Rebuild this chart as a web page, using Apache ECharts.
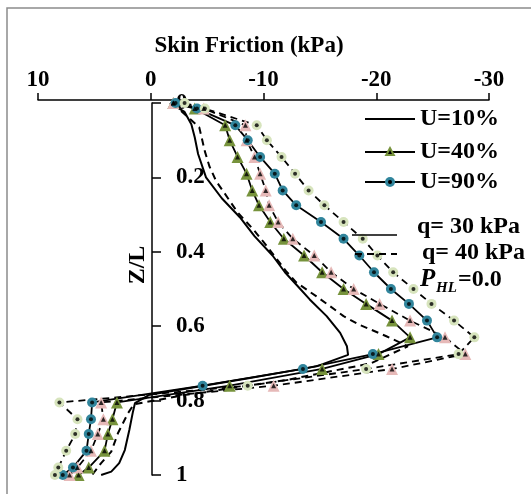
<!DOCTYPE html>
<html>
<head>
    <meta charset="utf-8" />
    <title>Skin Friction</title>
    <style>
        html, body { margin: 0; padding: 0; background: #fff; }
        #charts { width: 531px; height: 494px; }
    </style>
</head>
<body>
    <div id="charts"></div>
    <script src="https://cdn.jsdelivr.net/npm/echarts@6/dist/echarts.min.js"></script>
    <script type="text/javascript">
        // Z/L positions of the marked nodes (shared by the U=40% and U=90% curves)
        var zNodes = [0, 0.015, 0.06, 0.10, 0.145, 0.19, 0.235, 0.275, 0.32, 0.365, 0.41, 0.455, 0.5,
            0.54, 0.585, 0.63, 0.675, 0.715, 0.76, 0.805, 0.85, 0.89, 0.935, 0.98, 1.0];

        // skin friction (kPa) at those nodes
        var u40q30 = [-2.0, -3.9, -6.6, -7.0, -7.7, -8.5, -9.0, -9.6, -10.6, -11.8, -13.6, -15.2, -17.1,
            -19.1, -21.4, -23.0, -20.2, -15.2, -7.0, 3.0, 3.4, 3.8, 4.1, 5.5, 6.4];
        var u40q40 = [-2.0, -4.7, -8.4, -8.5, -9.2, -9.7, -10.2, -10.5, -11.3, -12.6, -14.5, -16.0, -18.0,
            -20.3, -23.0, -26.1, -27.9, -21.4, -10.9, 4.4, 4.2, 4.7, 5.3, 6.5, 7.2];
        var u90q30 = [-2.2, -4.1, -7.5, -8.6, -9.7, -11.0, -11.7, -12.9, -15.1, -17.1, -18.5, -19.8, -21.3,
            -22.9, -24.5, -25.4, -19.7, -13.5, -4.6, 5.2, 5.3, 5.5, 5.7, 6.9, 7.8];
        var u90q40 = [-3.0, -4.8, -9.4, -10.3, -11.6, -12.8, -14.0, -15.4, -17.1, -18.8, -20.1, -21.5, -23.3,
            -24.9, -26.9, -28.7, -27.3, -19.1, -8.6, 8.1, 6.5, 6.7, 7.5, 8.2, 8.5];

        // U=10% curves (no markers)
        var u10q30Z = [0, 0.024, 0.057, 0.092, 0.137, 0.2, 0.256, 0.307, 0.358, 0.41, 0.455, 0.488, 0.528,
            0.573, 0.618, 0.654, 0.677, 0.708, 0.739, 0.762, 0.784, 0.807, 0.833, 0.879, 0.933, 0.968, 0.991, 1.0];
        var u10q30 = [-1.7, -3.0, -3.6, -3.9, -4.2, -4.9, -6.3, -7.9, -9.2, -10.8, -11.9, -12.9, -14.1,
            -15.6, -16.8, -17.4, -17.5, -14.7, -8.8, -4.3, 0.1, 1.4, 1.6, 1.9, 2.3, 2.8, 3.5, 4.4];
        var u10q40Z = [0, 0.065, 0.13, 0.17, 0.21, 0.245, 0.294, 0.34, 0.385, 0.452, 0.482, 0.52, 0.546,
            0.573, 0.596, 0.627, 0.654, 0.70, 0.745, 0.785, 0.81, 0.833, 0.887, 0.937, 0.968, 1.0];
        var u10q40 = [-1.9, -4.3, -4.8, -5.2, -5.8, -6.6, -7.7, -9.1, -10.3, -12.0, -12.9, -14.7, -15.9,
            -17.1, -18.5, -20.9, -22.8, -19.5, -12.0, -3.0, 1.5, 2.0, 2.9, 3.5, 4.4, 5.2];

        var xTicks = { min: -30, max: 10, step: 10 };
        var yTicks = { min: 0, max: 1, step: 0.2 };

        var FONT = 'Liberation Serif';
        var GREEN = '#77933C', PINK = '#E6B9B8', BLUE = '#31859C', LIGHTGREEN = '#D7E4BD';

        function pairs(zs, vs) {
            var out = [];
            for (var i = 0; i < vs.length; i++) out.push([vs[i], zs[i]]);
            return out;
        }

        function curve(name, zs, vs, dashed) {
            return {
                name: name, type: 'line', data: pairs(zs, vs), symbol: 'none',
                lineStyle: { color: '#000', width: 2, type: dashed ? [7, 5] : 'solid' },
                z: 2
            };
        }

        function marked(name, vs, dashed, shape, color, size) {
            return {
                name: name, type: 'line', data: pairs(zNodes, vs),
                symbol: shape, symbolSize: size, showAllSymbol: true,
                itemStyle: { color: color, borderColor: color, borderWidth: 0 },
                lineStyle: { color: '#000', width: 1.8, type: dashed ? [7, 5] : 'solid' },
                z: 3
            };
        }

        // small black centre of each marker
        function dots(vs, shape) {
            return {
                type: 'scatter', data: pairs(zNodes, vs), symbol: shape,
                symbolSize: shape === 'triangle' ? 5 : 4,
                itemStyle: { color: '#000' }, z: 4, silent: true
            };
        }

        var labelStyle = { color: '#000', fontFamily: FONT, fontWeight: 'bold', fontSize: 23 };
        var txt = { fill: '#000', font: 'bold 24px "' + FONT + '"', verticalAlign: 'middle', align: 'left' };

        function legendText(x, y, s, extra) {
            var st = { text: s, x: x, y: y };
            for (var k in txt) st[k] = txt[k];
            if (extra) for (var k2 in extra) st[k2] = extra[k2];
            return { type: 'text', style: st, z: 10 };
        }

        var myChart = echarts.init(document.getElementById('charts'));

        var option = {
            animation: false,
            backgroundColor: '#fff',
            grid: { left: 38, right: 42, top: 103, bottom: 19 },
            xAxis: {
                type: 'value', position: 'top', inverse: true, offset: 3,
                min: xTicks.min, max: xTicks.max, interval: xTicks.step,
                name: 'Skin Friction (kPa)', nameLocation: 'middle', nameGap: 42,
                nameTextStyle: { color: '#000', fontFamily: FONT, fontWeight: 'bold', fontSize: 23, padding: [0, 29, 0, 0] },
                axisLine: { onZero: false, lineStyle: { color: '#000', width: 1.5 } },
                axisTick: { length: 7, lineStyle: { color: '#000', width: 1.5 } },
                axisLabel: Object.assign({ margin: 8 }, labelStyle),
                splitLine: { show: false }
            },
            yAxis: {
                type: 'value', inverse: true, position: 'left', offset: -114,
                min: yTicks.min, max: yTicks.max, interval: yTicks.step,
                axisLine: { onZero: false, lineStyle: { color: '#000', width: 1.5 } },
                axisTick: { inside: true, length: 9, lineStyle: { color: '#000', width: 1.5 } },
                axisLabel: Object.assign({ inside: true, margin: 24, showMinLabel: true, showMaxLabel: true, hideOverlap: false }, labelStyle),
                splitLine: { show: false }
            },
            series: [
                curve('U=10% q=30', u10q30Z, u10q30, false),
                curve('U=10% q=40', u10q40Z, u10q40, true),
                marked('U=40% q=30', u40q30, false, 'triangle', GREEN, 12),
                marked('U=40% q=40', u40q40, true, 'triangle', PINK, 12),
                marked('U=90% q=30', u90q30, false, 'circle', BLUE, 10),
                marked('U=90% q=40', u90q40, true, 'circle', LIGHTGREEN, 10),
                dots(u40q30, 'triangle'),
                dots(u40q40, 'triangle'),
                dots(u90q30, 'circle'),
                dots(u90q40, 'circle')
            ],
            graphic: [
                // frame
                { type: 'rect', shape: { x: 7, y: 8, width: 700, height: 700 }, style: { fill: null, stroke: '#8c8c8c', lineWidth: 1.5 }, z: 0 },
                // axis name Z/L
                { type: 'text', x: 138, y: 265, rotation: Math.PI / 2,
                  style: { text: 'Z/L', fill: '#000', font: 'bold 24px "' + FONT + '"', align: 'center', verticalAlign: 'middle' }, z: 10 },
                // legend: U
                { type: 'line', shape: { x1: 365, y1: 119, x2: 415, y2: 119 }, style: { stroke: '#000', lineWidth: 2 }, z: 10 },
                legendText(420, 119, 'U=10%'),
                { type: 'line', shape: { x1: 365, y1: 152, x2: 415, y2: 152 }, style: { stroke: '#000', lineWidth: 2 }, z: 10 },
                { type: 'polygon', shape: { points: [[390, 146], [395.5, 156], [384.5, 156]] }, style: { fill: GREEN }, z: 11 },
                { type: 'polygon', shape: { points: [[390, 150], [392, 154], [388, 154]] }, style: { fill: '#000' }, z: 12 },
                legendText(420, 152, 'U=40%'),
                { type: 'line', shape: { x1: 365, y1: 182, x2: 415, y2: 182 }, style: { stroke: '#000', lineWidth: 2 }, z: 10 },
                { type: 'circle', shape: { cx: 390, cy: 182, r: 5 }, style: { fill: BLUE }, z: 11 },
                { type: 'circle', shape: { cx: 390, cy: 182, r: 2 }, style: { fill: '#000' }, z: 12 },
                legendText(420, 182, 'U=90%'),
                // legend: q
                { type: 'line', shape: { x1: 352, y1: 235, x2: 397, y2: 235 }, style: { stroke: '#000', lineWidth: 1.5 }, z: 10 },
                legendText(417, 227, 'q= 30 kPa'),
                { type: 'line', shape: { x1: 355, y1: 254, x2: 397, y2: 254 }, style: { stroke: '#000', lineWidth: 2, lineDash: [7, 5] }, z: 10 },
                legendText(422, 253, 'q= 40 kPa'),
                legendText(420, 280, 'P', { font: 'italic bold 25px "' + FONT + '"' }),
                legendText(436, 288, 'HL', { font: 'italic bold 15px "' + FONT + '"' }),
                legendText(458, 280, '=0.0', { font: 'bold 24px "' + FONT + '"' })
            ]
        };

        myChart.setOption(option);
    </script>
</body>
</html>
